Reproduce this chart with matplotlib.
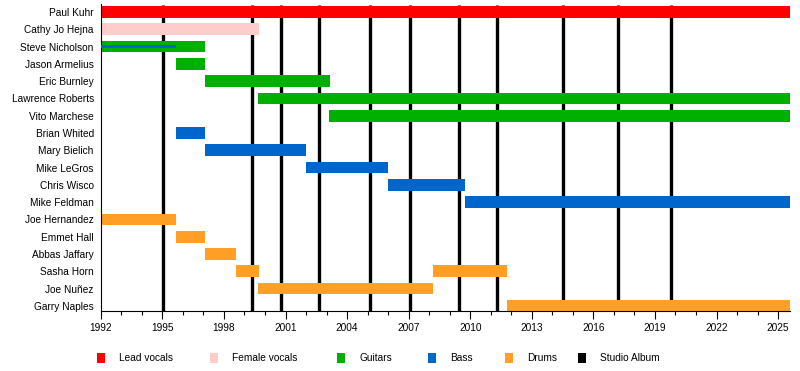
import matplotlib
matplotlib.use("Agg")
import matplotlib.pyplot as plt
from matplotlib.patches import Rectangle
from matplotlib.ticker import MultipleLocator

plt.rcParams['font.family'] = ['Liberation Sans', 'DejaVu Sans']

# timeline data (years as decimals)
END = 2025.6
members = ['Paul Kuhr', 'Cathy Jo Hejna', 'Steve Nicholson', 'Jason Armelius',
           'Eric Burnley', 'Lawrence Roberts', 'Vito Marchese', 'Brian Whited',
           'Mary Bielich', 'Mike LeGros', 'Chris Wisco', 'Mike Feldman',
           'Joe Hernandez', 'Emmet Hall', 'Abbas Jaffary', 'Sasha Horn',
           'Joe Nuñez', 'Garry Naples']

# (member, role, start, end)
spells = [
    ('Paul Kuhr', 'Lead vocals', 1992.0, END),
    ('Cathy Jo Hejna', 'Female vocals', 1992.0, 1999.7),
    ('Steve Nicholson', 'Guitars', 1992.0, 1997.1),
    ('Jason Armelius', 'Guitars', 1995.65, 1997.1),
    ('Eric Burnley', 'Guitars', 1997.1, 2003.15),
    ('Lawrence Roberts', 'Guitars', 1999.65, END),
    ('Vito Marchese', 'Guitars', 2003.1, END),
    ('Brian Whited', 'Bass', 1995.65, 1997.1),
    ('Mary Bielich', 'Bass', 1997.1, 2002.0),
    ('Mike LeGros', 'Bass', 2002.0, 2006.0),
    ('Chris Wisco', 'Bass', 2006.0, 2009.75),
    ('Mike Feldman', 'Bass', 2009.75, END),
    ('Joe Hernandez', 'Drums', 1992.0, 1995.65),
    ('Emmet Hall', 'Drums', 1995.65, 1997.1),
    ('Abbas Jaffary', 'Drums', 1997.1, 1998.6),
    ('Sasha Horn', 'Drums', 1998.6, 1999.7),
    ('Sasha Horn', 'Drums', 2008.2, 2011.8),
    ('Joe Nuñez', 'Drums', 1999.65, 2008.2),
    ('Garry Naples', 'Drums', 2011.8, END),
]
# secondary (thin) bars
thin_spells = [
    ('Steve Nicholson', 'Bass', 1992.0, 1995.65),
]

albums = [1995.05, 1999.35, 2000.8, 2002.65, 2005.1, 2007.05,
          2009.45, 2011.3, 2014.5, 2017.2, 2019.8]

role_colors = {
    'Lead vocals': '#ff0000',
    'Female vocals': '#ffcccc',
    'Guitars': '#00b000',
    'Bass': '#0066cc',
    'Drums': '#ff9f25',
    'Studio Album': '#000000',
}

W, H = 800, 371
fig = plt.figure(figsize=(W / 100, H / 100), dpi=100)
ax = fig.add_axes([0.126, 0.162, 0.862, 0.827])

ypos = {m: i for i, m in enumerate(members)}
n = len(members)

for x in albums:
    ax.plot([x, x], [-0.42, n - 0.71], color='black', lw=2.4, zorder=1,
            solid_capstyle='butt')

for m, role, s, e in spells:
    ax.barh(ypos[m], e - s, left=s, height=0.68, color=role_colors[role],
            zorder=2)
for m, role, s, e in thin_spells:
    ax.barh(ypos[m], e - s, left=s, height=0.2, color=role_colors[role],
            zorder=3)

ax.set_xlim(1992, END)
ax.set_ylim(n - 0.71, -0.46)
ax.set_yticks(range(n))
ax.set_yticklabels(members)
ax.xaxis.set_major_locator(MultipleLocator(3))
ax.xaxis.set_minor_locator(MultipleLocator(1))
ax.tick_params(axis='y', left=False, length=0, pad=5, labelsize=7.3)
ax.tick_params(axis='x', which='major', length=5.5, width=0.8, labelsize=7.3, pad=3)
ax.tick_params(axis='x', which='minor', length=3, width=0.8)
for side in ['top', 'right']:
    ax.spines[side].set_visible(False)
ax.spines['bottom'].set_linewidth(0.8)
ax.spines['left'].set_linewidth(0.8)

# legend row, laid out by hand like the original timeline
legend_px = [97, 210, 337, 428, 505, 578]
for (role, col), px in zip(role_colors.items(), legend_px):
    fig.add_artist(Rectangle((px / W, (H - 363) / H), 8 / W, 10 / H,
                             transform=fig.transFigure, facecolor=col,
                             edgecolor='none'))
    fig.text((px + 22) / W, (H - 358) / H, role, fontsize=7.3,
             va='center', ha='left')

fig.savefig('out.png', dpi=100)
